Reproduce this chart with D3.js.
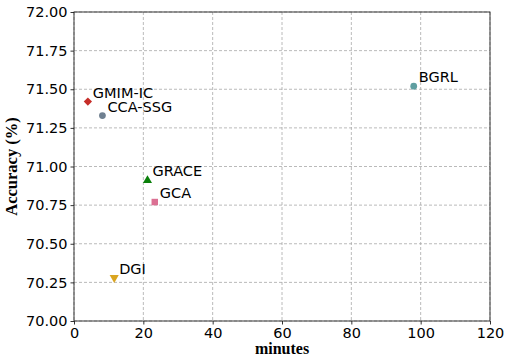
<!DOCTYPE html>
<html><head><meta charset="utf-8">
<script src="https://cdn.jsdelivr.net/npm/d3@7"></script>
<style>body{margin:0;background:#fff}svg{display:block}</style>
</head><body>
<svg id="c" width="505" height="356"></svg>
<script>
const methods = ["GMIM-IC","CCA-SSG","GRACE","GCA","DGI","BGRL"];
const minutes = [4, 8.2, 21.2, 23.3, 11.6, 98];
const accuracy = [71.42, 71.33, 70.91, 70.77, 70.28, 71.52];
const colors = ["#c62d28","#708090","#0a800a","#db7093","#daa520","#5f9ea0"];
const shapes = ["diamond","circle","triangle","square","triangleDown","circle"];
const xTicks = [0,20,40,60,80,100,120];
const yTicks = [70.00,70.25,70.50,70.75,71.00,71.25,71.50,71.75,72.00];

const svg = d3.select("#c");
const L=74, T=12, R=490, B=321;
const x = d3.scaleLinear().domain([0,120]).range([L,R]);
const y = d3.scaleLinear().domain([70,72]).range([B,T]);
const font = "DejaVu Sans, sans-serif";

// grid
svg.append("g").selectAll("line").data(xTicks).join("line")
  .attr("x1",d=>x(d)).attr("x2",d=>x(d)).attr("y1",T).attr("y2",B)
  .attr("stroke","#a8a8a8").attr("stroke-width",0.8).attr("stroke-dasharray","3,2");
svg.append("g").selectAll("line").data(yTicks).join("line")
  .attr("y1",d=>y(d)).attr("y2",d=>y(d)).attr("x1",L).attr("x2",R)
  .attr("stroke","#a8a8a8").attr("stroke-width",0.8).attr("stroke-dasharray","3,2");

// axes
const xa = svg.append("g").attr("transform",`translate(0,${B})`)
  .call(d3.axisBottom(x).tickValues(xTicks).tickFormat(d3.format("d")).tickSize(3.5).tickPadding(3));
const ya = svg.append("g").attr("transform",`translate(${L},0)`)
  .call(d3.axisLeft(y).tickValues(yTicks).tickFormat(d3.format(".2f")).tickSize(3.5).tickPadding(3));
[xa,ya].forEach(a=>{
  a.select(".domain").remove();
  a.selectAll("text").attr("font-family",font).attr("font-size",14.5).attr("fill","#000");
  a.selectAll("line").attr("stroke","#000").attr("stroke-width",0.8);
});

// frame
svg.append("rect").attr("x",L).attr("y",T).attr("width",R-L).attr("height",B-T)
  .attr("fill","none").attr("stroke","#222").attr("stroke-width",0.9);

// markers
const sym = {diamond:d3.symbolSquare, circle:d3.symbolCircle, triangle:d3.symbolTriangle, square:d3.symbolSquare, triangleDown:d3.symbolTriangle};
const sizes = {diamond:34, circle:36, triangle:36, square:42, triangleDown:36};
const rot = {diamond:" rotate(45)", triangleDown:" rotate(180)"};
const pts = methods.map((m,i)=>({m, x:minutes[i], y:accuracy[i], c:colors[i], s:shapes[i]}));
svg.append("g").selectAll("path").data(pts).join("path")
  .attr("d",d=>d3.symbol(sym[d.s], sizes[d.s])())
  .attr("transform",d=>`translate(${x(d.x)},${y(d.y)})${rot[d.s]||""}`)
  .attr("fill",d=>d.c);

svg.append("g").selectAll("text").data(pts).join("text")
  .attr("x",d=>x(d.x)+5).attr("y",d=>y(d.y)-4)
  .attr("font-family",font).attr("font-size",14.5).attr("fill","#000")
  .text(d=>d.m);

// axis titles
svg.append("text").attr("x",(L+R)/2).attr("y",354).attr("text-anchor","middle")
  .attr("font-family","Liberation Serif, Times New Roman, serif").attr("font-weight","bold").attr("font-size",16)
  .text("minutes");
svg.append("text").attr("transform",`translate(17,${(T+B)/2}) rotate(-90)`).attr("text-anchor","middle")
  .attr("font-family","Liberation Serif, Times New Roman, serif").attr("font-weight","bold").attr("font-size",16.5)
  .text("Accuracy (%)");
</script>
</body></html>
